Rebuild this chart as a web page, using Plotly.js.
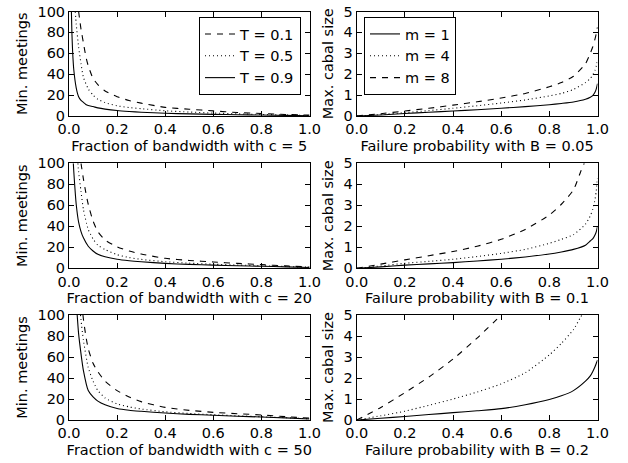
<!DOCTYPE html>
<html>
<head>
<meta charset="utf-8">
<script src="https://cdn.plot.ly/plotly-3.0.1.min.js"></script>
<style>html,body{margin:0;padding:0;background:#fff}#chart{width:628px;height:463px}</style>
</head>
<body>
<div id="chart"></div>
<script>
// ---- Left column: min. meetings vs fraction of bandwidth ----
const c5_T09_x = [0.01,0.012,0.015,0.02,0.03,0.04,0.05,0.06,0.07,0.08,0.1,0.12,0.15,0.2,0.25,0.3,0.4,0.5,0.6,0.7,0.8,0.9,1.0];
const c5_T09_y = [100,80,62,44,27,18.5,15,13,11,10,9,7.8,6.6,5.2,4.3,3.6,2.6,2,1.6,1.2,0.9,0.6,0.3];
const c5_T05_x = [0.026,0.03,0.04,0.05,0.06,0.08,0.1,0.12,0.15,0.2,0.25,0.3,0.4,0.5,0.6,0.7,0.8,0.9,1.0];
const c5_T05_y = [100,88,66,50,37,26,20,16,12.8,9.8,8.1,7,5,3.8,2.8,2.1,1.5,1,0.5];
const c5_T01_x = [0.04,0.05,0.06,0.07,0.08,0.1,0.12,0.15,0.2,0.25,0.3,0.4,0.5,0.6,0.7,0.8,0.9,1.0];
const c5_T01_y = [100,83,70,57,48,36,30,24,18.5,14.8,12.3,8.3,6.5,4.9,3.3,2.4,1.5,0.8];

const c20_T09_x = [0.018,0.02,0.03,0.04,0.05,0.06,0.08,0.1,0.12,0.15,0.2,0.25,0.3,0.4,0.5,0.6,0.7,0.8,0.9,1.0];
const c20_T09_y = [100,92,61,44,35,29,21,16.5,13.3,11,8.6,7.2,6.2,4.7,3.7,3,2.4,1.9,1.4,0.8];
const c20_T05_x = [0.037,0.04,0.05,0.06,0.08,0.1,0.12,0.15,0.2,0.25,0.3,0.4,0.5,0.6,0.7,0.8,0.9,1.0];
const c20_T05_y = [100,92,73,56,37,28,22,17.8,13,10.2,8.5,6.3,4.9,3.9,3.1,2.4,1.7,1];
const c20_T01_x = [0.05,0.06,0.07,0.08,0.1,0.12,0.15,0.2,0.25,0.3,0.4,0.5,0.6,0.7,0.8,0.9,1.0];
const c20_T01_y = [100,85,72,61,45,35,27,20.5,16.5,13.6,9.5,7.5,6,4.7,3.5,2.3,1.2];

const c50_T09_x = [0.034,0.04,0.05,0.06,0.08,0.1,0.12,0.15,0.2,0.25,0.3,0.4,0.5,0.6,0.7,0.8,0.9,1.0];
const c50_T09_y = [100,82,63,47,28,22,18,14.5,11,9.3,8.3,6.6,5.4,4.5,3.6,2.8,2,1];
const c50_T05_x = [0.048,0.05,0.06,0.08,0.1,0.12,0.15,0.2,0.25,0.3,0.4,0.5,0.6,0.7,0.8,0.9,1.0];
const c50_T05_y = [100,95,76,50,37,28,21,15.4,12.5,10.5,7.8,6.2,5,4,3.1,2.2,1.2];
const c50_T01_x = [0.058,0.06,0.07,0.08,0.1,0.12,0.15,0.2,0.25,0.3,0.4,0.5,0.6,0.7,0.8,0.9,1.0];
const c50_T01_y = [100,96,80,68,54,46,37,28,22,17.5,12,9.2,7.3,6,4.8,3.2,1.8];

// ---- Right column: max. cabal size vs failure probability ----
const P = [0,0.1,0.2,0.3,0.4,0.5,0.6,0.7,0.8,0.85,0.9,0.95,0.97,0.98,0.99,0.995,1.0];
const B005_m1 = [0,0.05,0.12,0.18,0.24,0.3,0.37,0.45,0.54,0.6,0.67,0.8,0.9,0.98,1.15,1.3,1.55];
const B005_m4 = [0,0.07,0.16,0.26,0.37,0.49,0.62,0.77,0.96,1.08,1.27,1.6,1.8,1.95,2.2,2.4,2.7];
const B005_m8 = [0,0.11,0.24,0.37,0.52,0.68,0.86,1.08,1.4,1.6,1.9,2.5,3.0,3.3,3.7,3.95,4.25];

const B01_m1 = [0,0.07,0.15,0.21,0.27,0.35,0.43,0.54,0.68,0.78,0.9,1.1,1.3,1.4,1.6,1.75,2.0];
const B01_m4 = [0,0.11,0.24,0.33,0.43,0.56,0.71,0.9,1.19,1.38,1.6,2.1,2.5,2.8,3.3,3.7,4.3];
const B01_m8_x = [0,0.1,0.2,0.3,0.4,0.5,0.6,0.7,0.8,0.85,0.9,0.93,0.945];
const B01_m8_y = [0,0.2,0.4,0.6,0.8,1.05,1.38,1.85,2.54,3.05,3.73,4.6,5.0];

const B02_m1 = [0,0.08,0.17,0.26,0.35,0.44,0.54,0.73,0.98,1.15,1.4,1.85,2.1,2.3,2.55,2.7,2.85];
const B02_m4_x = [0,0.1,0.2,0.3,0.4,0.5,0.6,0.7,0.8,0.85,0.9,0.93,0.94];
const B02_m4_y = [0,0.2,0.42,0.7,1.0,1.33,1.72,2.25,3.1,3.65,4.3,4.9,5.1];
const B02_m8_x = [0,0.1,0.2,0.3,0.4,0.5,0.6];
const B02_m8_y = [0,0.6,1.3,2.05,2.9,3.9,5.0];

const xTitlesLeft = ['Fraction of bandwidth with c = 5','Fraction of bandwidth with c = 20','Fraction of bandwidth with c = 50'];
const xTitlesRight = ['Failure probability with B = 0.05','Failure probability with B = 0.1','Failure probability with B = 0.2'];
const yTitleLeft = 'Min. meetings';
const yTitleRight = 'Max. cabal size';
const namesT = ['T = 0.1','T = 0.5','T = 0.9'];
const namesM = ['m = 1','m = 4','m = 8'];

const DASH = '6px,6px', DOT = '1px,3px', SOLID = 'solid';
function tr(x, y, ax, dash, name, show, leg) {
  return {x: x, y: y, xaxis: 'x' + ax, yaxis: 'y' + ax, type: 'scatter', mode: 'lines',
    line: {color: 'black', width: 1.1, dash: dash, shape: 'spline', smoothing: 0.6},
    name: name, showlegend: show, legend: leg, hoverinfo: 'skip'};
}
const data = [
  tr(c5_T01_x, c5_T01_y, '', DASH, namesT[0], true, 'legend'),
  tr(c5_T05_x, c5_T05_y, '', DOT, namesT[1], true, 'legend'),
  tr(c5_T09_x, c5_T09_y, '', SOLID, namesT[2], true, 'legend'),
  tr(P, B005_m1, '2', SOLID, namesM[0], true, 'legend2'),
  tr(P, B005_m4, '2', DOT, namesM[1], true, 'legend2'),
  tr(P, B005_m8, '2', DASH, namesM[2], true, 'legend2'),
  tr(c20_T01_x, c20_T01_y, '3', DASH, namesT[0], false, 'legend'),
  tr(c20_T05_x, c20_T05_y, '3', DOT, namesT[1], false, 'legend'),
  tr(c20_T09_x, c20_T09_y, '3', SOLID, namesT[2], false, 'legend'),
  tr(P, B01_m1, '4', SOLID, namesM[0], false, 'legend2'),
  tr(P, B01_m4, '4', DOT, namesM[1], false, 'legend2'),
  tr(B01_m8_x, B01_m8_y, '4', DASH, namesM[2], false, 'legend2'),
  tr(c50_T01_x, c50_T01_y, '5', DASH, namesT[0], false, 'legend'),
  tr(c50_T05_x, c50_T05_y, '5', DOT, namesT[1], false, 'legend'),
  tr(c50_T09_x, c50_T09_y, '5', SOLID, namesT[2], false, 'legend'),
  tr(P, B02_m1, '6', SOLID, namesM[0], false, 'legend2'),
  tr(B02_m4_x, B02_m4_y, '6', DOT, namesM[1], false, 'legend2'),
  tr(B02_m8_x, B02_m8_y, '6', DASH, namesM[2], false, 'legend2')
];

const W = 628, H = 463;
const colX = [[69/W, 309.5/W], [356.7/W, 597.5/W]];
const rowY = [[1-116/H, 1-11.5/H], [1-268.3/H, 1-163.3/H], [1-420/H, 1-315/H]];
const FONT = {family: 'DejaVu Sans', size: 14.5, color: 'black'};

function xa(dom, anchor, title) {
  return {domain: dom, anchor: anchor, range: [0, 1], dtick: 0.2, tick0: 0, tickformat: '.1f',
    showline: true, linecolor: 'black', linewidth: 1, mirror: 'ticks', ticks: 'inside', ticklen: 5,
    tickcolor: 'black', showgrid: false, zeroline: false, tickfont: FONT,
    title: {text: title, font: FONT, standoff: 4}, fixedrange: true};
}
function ya(dom, anchor, title, max, dt) {
  return {domain: dom, anchor: anchor, range: [0, max], dtick: dt, tick0: 0,
    showline: true, linecolor: 'black', linewidth: 1, mirror: 'ticks', ticks: 'inside', ticklen: 5,
    tickcolor: 'black', showgrid: false, zeroline: false, tickfont: FONT,
    title: {text: title, font: FONT, standoff: 6}, fixedrange: true};
}

const layout = {
  width: W, height: H, margin: {l: 0, r: 0, t: 0, b: 0},
  paper_bgcolor: 'white', plot_bgcolor: 'white', font: FONT,
  xaxis: xa(colX[0], 'y', xTitlesLeft[0]), yaxis: ya(rowY[0], 'x', yTitleLeft, 100, 20),
  xaxis2: xa(colX[1], 'y2', xTitlesRight[0]), yaxis2: ya(rowY[0], 'x2', yTitleRight, 5, 1),
  xaxis3: xa(colX[0], 'y3', xTitlesLeft[1]), yaxis3: ya(rowY[1], 'x3', yTitleLeft, 100, 20),
  xaxis4: xa(colX[1], 'y4', xTitlesRight[1]), yaxis4: ya(rowY[1], 'x4', yTitleRight, 5, 1),
  xaxis5: xa(colX[0], 'y5', xTitlesLeft[2]), yaxis5: ya(rowY[2], 'x5', yTitleLeft, 100, 20),
  xaxis6: xa(colX[1], 'y6', xTitlesRight[2]), yaxis6: ya(rowY[2], 'x6', yTitleRight, 5, 1),
  legend: {x: 199/W, y: 1-17/H, xanchor: 'left', yanchor: 'top', bgcolor: 'white',
    bordercolor: 'black', borderwidth: 1, font: FONT, traceorder: 'normal'},
  legend2: {x: 364/W, y: 1-17/H, xanchor: 'left', yanchor: 'top', bgcolor: 'white',
    bordercolor: 'black', borderwidth: 1, font: FONT, traceorder: 'normal'},
  showlegend: true
};

Plotly.newPlot('chart', data, layout, {staticPlot: true, displayModeBar: false});
</script>
</body>
</html>
